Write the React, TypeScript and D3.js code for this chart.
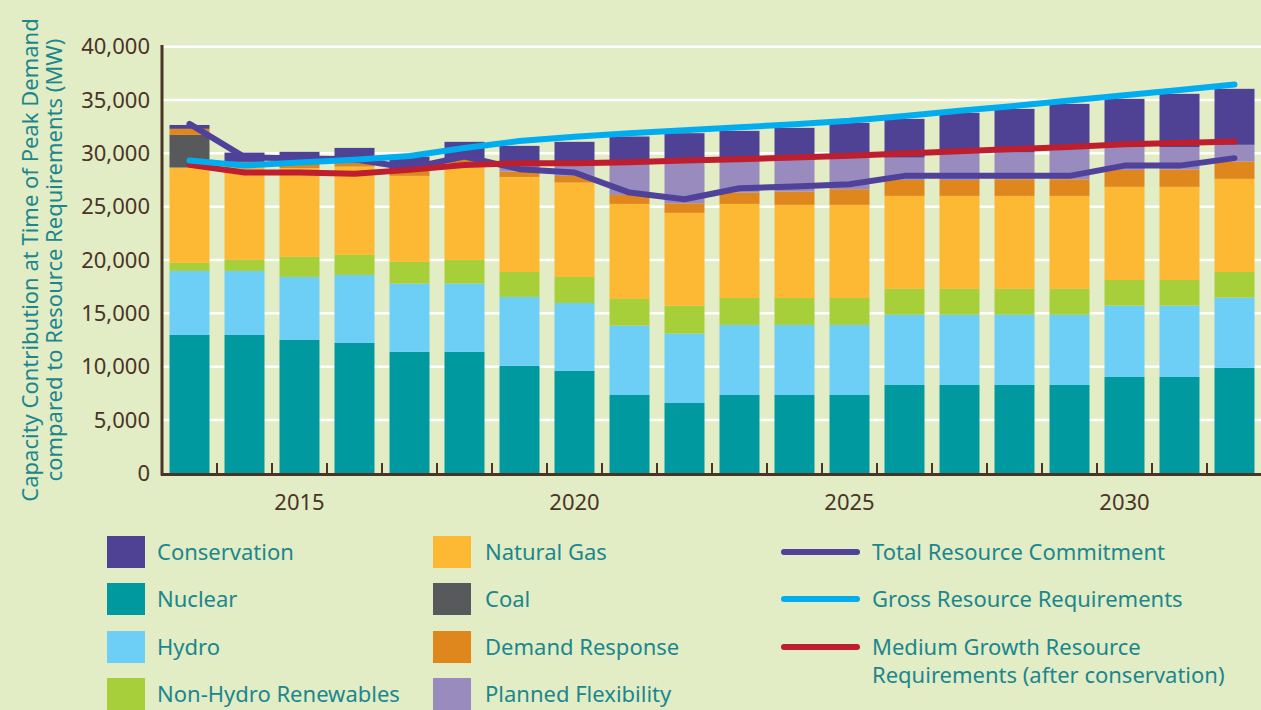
import * as d3 from 'd3';

const years = [
  2013, 2014, 2015, 2016, 2017, 2018, 2019, 2020, 2021, 2022,
  2023, 2024, 2025, 2026, 2027, 2028, 2029, 2030, 2031, 2032,
];

// stacked capacity contributions (MW), bottom to top
const nuclear = [12970, 12970, 12500, 12220, 11380, 11380, 10070, 9600, 7340, 6590, 7340, 7340, 7340, 8280, 8280, 8280, 8280, 9030, 9030, 9880];
const hydro = [6010, 6010, 5910, 6380, 6410, 6410, 6470, 6370, 6510, 6510, 6570, 6570, 6570, 6580, 6580, 6580, 6580, 6690, 6690, 6590];
const nonHydro = [750, 1030, 1880, 1880, 2030, 2220, 2340, 2440, 2500, 2610, 2530, 2530, 2530, 2430, 2430, 2430, 2430, 2410, 2410, 2410];
const naturalGas = [8940, 8890, 8320, 8280, 8070, 9070, 8910, 8850, 8910, 8710, 8820, 8730, 8730, 8720, 8720, 8720, 8720, 8730, 8730, 8730];
const coal = [3060, 0, 0, 0, 0, 0, 0, 0, 0, 0, 0, 0, 0, 0, 0, 0, 0, 0, 0, 0];
const demandResponse = [570, 300, 400, 320, 560, 370, 500, 630, 840, 900, 1060, 1250, 1470, 1500, 1500, 1560, 1560, 1590, 1630, 1620];
const plannedFlex = [0, 0, 0, 0, 0, 0, 470, 1010, 3130, 4070, 3070, 3120, 3060, 2090, 2490, 2510, 2850, 2130, 2090, 1570];
const conservation = [360, 870, 1130, 1430, 1250, 1630, 1940, 2180, 2350, 2500, 2720, 2850, 3160, 3630, 3800, 4090, 4220, 4530, 5000, 5250];

// lines
const totalCommitment = [32760, 29640, 29510, 29450, 28620, 29700, 28520, 28200, 26320, 25700, 26730, 26890, 27110, 27890, 27890, 27890, 27890, 28850, 28850, 29550];
const grossRequirements = [29320, 28860, 29140, 29400, 29750, 30500, 31150, 31550, 31890, 32170, 32450, 32730, 33050, 33500, 34000, 34450, 34950, 35450, 35950, 36450];
const mediumGrowth = [28920, 28200, 28200, 28080, 28450, 28900, 29070, 29080, 29170, 29330, 29450, 29610, 29770, 29980, 30200, 30400, 30600, 30850, 30980, 31100];

const yTicks = [0, 5000, 10000, 15000, 20000, 25000, 30000, 35000, 40000];
const xLabels = [2015, 2020, 2025, 2030];

const stackSeries = [
  { key: 'nuclear', label: 'Nuclear', values: nuclear, color: '#00999f' },
  { key: 'hydro', label: 'Hydro', values: hydro, color: '#6dcff6' },
  { key: 'nonHydro', label: 'Non-Hydro Renewables', values: nonHydro, color: '#a7cf3a' },
  { key: 'gas', label: 'Natural Gas', values: naturalGas, color: '#fdb834' },
  { key: 'coal', label: 'Coal', values: coal, color: '#58595b' },
  { key: 'dr', label: 'Demand Response', values: demandResponse, color: '#df861d' },
  { key: 'pf', label: 'Planned Flexibility', values: plannedFlex, color: '#9a8bbf' },
  { key: 'cons', label: 'Conservation', values: conservation, color: '#4f4294' },
];

const lineSeries = [
  { label: ['Total Resource Commitment'], values: totalCommitment, color: '#50429a' },
  { label: ['Medium Growth Resource', 'Requirements (after conservation)'], values: mediumGrowth, color: '#be1e2d' },
  { label: ['Gross Resource Requirements'], values: grossRequirements, color: '#00aeef' },
];

const legendLeft = ['cons', 'nuclear', 'hydro', 'nonHydro'];
const legendMid = ['gas', 'coal', 'dr', 'pf'];
const legendLines = [0, 2, 1];

const W = 1261;
const H = 710;
const BG = '#e2ecc5';
const AXIS = '#4a3426';
const TEAL = '#1b878d';
const FONT = '"Noto Sans", "Open Sans", sans-serif';

export default function App() {
  const x = d3
    .scaleBand<number>()
    .domain(years)
    .range([162, 1262])
    .paddingInner(15 / 55)
    .paddingOuter(7.5 / 55);
  const y = d3.scaleLinear().domain([0, 40000]).range([473.3, 46.7]);
  const bw = x.bandwidth();

  const rows = years.map((year, i) => {
    const row: Record<string, number> = { year };
    stackSeries.forEach((s) => (row[s.key] = s.values[i]));
    return row;
  });
  const stacked = d3.stack<Record<string, number>>().keys(stackSeries.map((s) => s.key))(rows);

  const line = d3
    .line<number>()
    .x((_, i) => x(years[i])! + bw / 2)
    .y((d) => y(d));

  const byKey = (k: string) => stackSeries.find((s) => s.key === k)!;
  const rowY = [552, 599, 647, 694];

  return (
    <svg
      width={W}
      height={H}
      style={{ position: 'absolute', left: 0, top: 0, display: 'block', background: BG }}
      fontFamily={FONT}
    >
      <rect width={W} height={H} fill={BG} />

      {/* gridlines */}
      {yTicks.slice(1).map((t) => (
        <line key={t} x1={163} x2={W} y1={y(t)} y2={y(t)} stroke="#ffffff" strokeWidth={2.5} />
      ))}

      {/* bars */}
      {stacked.map((layer, li) => (
        <g key={layer.key} fill={stackSeries[li].color}>
          {layer.map((d, i) =>
            d[1] - d[0] > 0 ? (
              <rect
                key={i}
                x={x(years[i])}
                width={bw}
                y={y(d[1])}
                height={y(d[0]) - y(d[1])}
              />
            ) : null
          )}
        </g>
      ))}

      {/* lines */}
      {lineSeries.map((s, i) => (
        <path
          key={i}
          d={line(s.values)!}
          fill="none"
          stroke={s.color}
          strokeWidth={6}
          strokeLinecap="round"
          strokeLinejoin="round"
        />
      ))}

      {/* axes */}
      <line x1={162} x2={162} y1={45} y2={475.5} stroke={AXIS} strokeWidth={3} />
      <line x1={161} x2={W} y1={474.5} y2={474.5} stroke={AXIS} strokeWidth={3} />
      {years.slice(1).map((yr) => (
        <line
          key={yr}
          x1={x(yr)! - 7.5}
          x2={x(yr)! - 7.5}
          y1={463}
          y2={474}
          stroke={AXIS}
          strokeWidth={2}
        />
      ))}
      {yTicks.map((t) => (
        <text
          key={t}
          x={150}
          y={y(t)}
          dy="0.35em"
          textAnchor="end"
          fontSize={22}
          fill={AXIS}
        >
          {d3.format(',')(t)}
        </text>
      ))}
      {xLabels.map((yr) => (
        <text
          key={yr}
          x={x(yr)! + bw / 2}
          y={510}
          textAnchor="middle"
          fontSize={22}
          fill={AXIS}
        >
          {yr}
        </text>
      ))}

      {/* y title */}
      <text transform="translate(38,260) rotate(-90)" textAnchor="middle" fontSize={22} fill={TEAL}>
        Capacity Contribution at Time of Peak Demand
      </text>
      <text transform="translate(62,260) rotate(-90)" textAnchor="middle" fontSize={22} fill={TEAL}>
        compared to Resource Requirements (MW)
      </text>

      {/* legend */}
      {legendLeft.map((k, i) => (
        <g key={k}>
          <rect x={107} y={rowY[i] - 16} width={38} height={32} fill={byKey(k).color} />
          <text x={157} y={rowY[i]} dy="0.35em" fontSize={22} fill={TEAL}>
            {byKey(k).label}
          </text>
        </g>
      ))}
      {legendMid.map((k, i) => (
        <g key={k}>
          <rect x={433} y={rowY[i] - 16} width={38} height={32} fill={byKey(k).color} />
          <text x={485} y={rowY[i]} dy="0.35em" fontSize={22} fill={TEAL}>
            {byKey(k).label}
          </text>
        </g>
      ))}
      {legendLines.map((li, i) => {
        const s = lineSeries[li];
        return (
          <g key={li}>
            <line
              x1={784}
              x2={857}
              y1={rowY[i]}
              y2={rowY[i]}
              stroke={s.color}
              strokeWidth={6}
              strokeLinecap="round"
            />
            {s.label.map((t, j) => (
              <text key={j} x={872} y={rowY[i] + j * 28} dy="0.35em" fontSize={22} fill={TEAL}>
                {t}
              </text>
            ))}
          </g>
        );
      })}
    </svg>
  );
}
